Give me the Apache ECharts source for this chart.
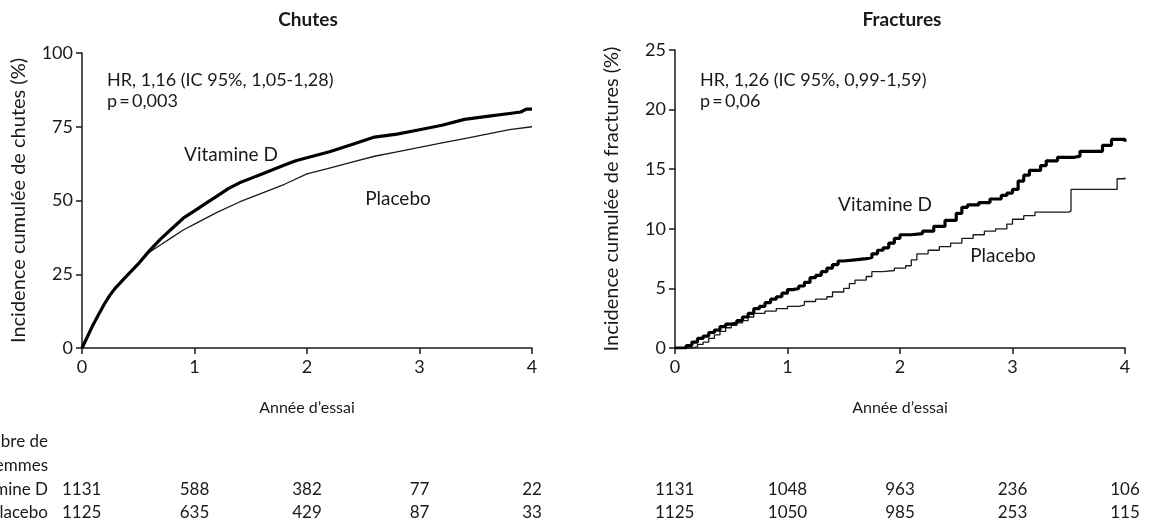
<!DOCTYPE html>
<html><head><meta charset="utf-8">
<script src="https://cdn.jsdelivr.net/npm/echarts@6/dist/echarts.min.js"></script>
<style>html,body{margin:0;padding:0;background:#fff}#c{width:1152px;height:521px}</style>
</head><body><div id="c"></div>
<script>
const yearTicks = [0, 1, 2, 3, 4];
const fallsVitD = [[0,0],[0.05,4],[0.1,8],[0.15,11.5],[0.2,15],[0.25,18],[0.3,20.5],[0.35,22.5],[0.4,24.5],[0.5,28.5],[0.6,33],[0.7,37],[0.8,40.5],[0.9,44],[1.0,46.5],[1.1,49],[1.2,51.5],[1.3,54],[1.4,56],[1.5,57.5],[1.6,59],[1.7,60.5],[1.8,62],[1.9,63.5],[2.0,64.5],[2.2,66.5],[2.4,69],[2.6,71.5],[2.8,72.5],[3.0,74],[3.2,75.5],[3.4,77.5],[3.6,78.5],[3.8,79.5],[3.9,80],[3.95,81],[4.0,81]];
const fallsPlacebo = [[0,0],[0.05,4],[0.1,8],[0.15,11.5],[0.2,15],[0.25,18],[0.3,20.5],[0.35,22.5],[0.4,24.5],[0.5,28.5],[0.6,32.5],[0.7,35],[0.8,37.5],[0.9,40],[1.0,42],[1.2,46],[1.4,49.5],[1.6,52.5],[1.8,55.5],[2.0,59],[2.2,61],[2.4,63],[2.6,65],[2.8,66.5],[3.0,68],[3.2,69.5],[3.4,71],[3.6,72.5],[3.8,74],[4.0,75]];
const fracVitD = [[0,0],[0.1,0.2],[0.15,0.5],[0.2,0.8],[0.25,1.0],[0.3,1.3],[0.35,1.5],[0.4,1.8],[0.45,2.0],[0.5,2.1],[0.55,2.3],[0.6,2.6],[0.65,2.9],[0.7,3.3],[0.75,3.5],[0.8,3.8],[0.85,4.1],[0.9,4.3],[0.95,4.6],[1.0,4.9],[1.05,5.0],[1.1,5.2],[1.15,5.5],[1.2,5.9],[1.25,6.1],[1.3,6.4],[1.35,6.7],[1.4,7.0],[1.45,7.3],[1.5,7.4],[1.6,7.5],[1.7,7.6],[1.75,7.9],[1.8,8.2],[1.85,8.4],[1.9,8.8],[1.95,9.2],[2.0,9.5],[2.1,9.6],[2.2,9.8],[2.3,10.2],[2.4,10.7],[2.5,11.3],[2.55,11.8],[2.6,12.0],[2.7,12.2],[2.8,12.5],[2.9,12.8],[2.95,13.0],[3.0,13.3],[3.05,14.0],[3.1,14.5],[3.15,14.9],[3.25,15.3],[3.3,15.7],[3.4,16.0],[3.55,16.1],[3.6,16.5],[3.8,17.0],[3.88,17.5],[4.0,17.3]];
const fracPlacebo = [[0,0],[0.15,0.1],[0.2,0.3],[0.25,0.5],[0.3,0.8],[0.35,1.1],[0.4,1.4],[0.45,1.7],[0.5,1.9],[0.55,2.1],[0.6,2.3],[0.65,2.6],[0.7,2.9],[0.8,3.1],[0.9,3.3],[1.0,3.5],[1.1,3.6],[1.15,3.9],[1.25,4.1],[1.35,4.3],[1.4,4.7],[1.5,5.0],[1.55,5.4],[1.6,5.7],[1.7,6.0],[1.75,6.4],[1.85,6.5],[1.95,6.7],[2.05,6.9],[2.1,7.4],[2.15,7.9],[2.25,8.2],[2.35,8.5],[2.45,8.8],[2.55,9.2],[2.65,9.5],[2.75,9.8],[2.85,10.0],[2.95,10.4],[3.0,10.8],[3.1,11.1],[3.2,11.4],[3.5,11.5],[3.52,13.3],[3.9,13.3],[3.93,14.2],[4.0,14.3]];
const atRiskFallsVitD = [1131, 588, 382, 77, 22];
const atRiskFallsPlacebo = [1125, 635, 429, 87, 33];
const atRiskFracVitD = [1131, 1048, 963, 236, 106];
const atRiskFracPlacebo = [1125, 1050, 985, 253, 115];
const rowLabels = ['Nombre de', 'femmes', 'Vitamine D', 'Placebo'];
const titles = ['Chutes', 'Fractures'];
const yNames = ['Incidence cumulée de chutes (%)', 'Incidence cumulée de fractures (%)'];
const xName = 'Année d\u2019essai';
const hrTexts = ['HR, 1,16 (IC 95%, 1,05-1,28)', 'HR, 1,26 (IC 95%, 0,99-1,59)'];
const pTexts = ['p\u2009=\u20090,003', 'p\u2009=\u20090,06'];

const FONT = 'Lato, "Open Sans", sans-serif';
const INK = '#1a1a1a';
const chart = echarts.init(document.getElementById('c'), null, {renderer: 'canvas'});

function xAx(i) {
  return {
    type: 'value', gridIndex: i, min: 0, max: 4, interval: 1,
    name: xName, nameLocation: 'middle', nameGap: 52,
    nameTextStyle: {fontFamily: FONT, fontSize: 16, color: INK},
    axisLine: {show: true, lineStyle: {color: INK, width: 1.5}},
    axisTick: {show: true, inside: false, length: 6, lineStyle: {color: INK, width: 1.5}},
    axisLabel: {fontFamily: FONT, fontSize: 18, color: INK, margin: 10},
    splitLine: {show: false}
  };
}
function yAx(i, max, interval) {
  return {
    type: 'value', gridIndex: i, min: 0, max: max, interval: interval,
    name: yNames[i], nameLocation: 'middle', nameGap: 53, nameRotate: 90,
    nameTextStyle: {fontFamily: FONT, fontSize: 20, color: INK},
    axisLine: {show: true, lineStyle: {color: INK, width: 1.5}},
    axisTick: {show: true, inside: false, length: 6, lineStyle: {color: INK, width: 1.5}},
    axisLabel: {fontFamily: FONT, fontSize: 18, color: INK, margin: 9},
    splitLine: {show: false}
  };
}

const option = {
  backgroundColor: '#fff',
  animation: false,
  grid: [
    {left: 82, top: 53, width: 450, height: 295},
    {left: 675, top: 50, width: 450, height: 298}
  ],
  xAxis: [xAx(0), xAx(1)],
  yAxis: [yAx(0, 100, 25), yAx(1, 25, 5)],
  series: [
    {name: 'Placebo', type: 'line', xAxisIndex: 0, yAxisIndex: 0, data: fallsPlacebo, showSymbol: false, lineStyle: {color: INK, width: 1.3}},
    {name: 'Vitamine D', type: 'line', xAxisIndex: 0, yAxisIndex: 0, data: fallsVitD, showSymbol: false, lineStyle: {color: '#000', width: 3.2}},
    {name: 'Placebo', type: 'line', step: 'end', xAxisIndex: 1, yAxisIndex: 1, data: fracPlacebo, showSymbol: false, lineStyle: {color: INK, width: 1.3}},
    {name: 'Vitamine D', type: 'line', step: 'end', xAxisIndex: 1, yAxisIndex: 1, data: fracVitD, showSymbol: false, lineStyle: {color: '#000', width: 3.2}}
  ]
};
chart.setOption(option);

function txt(x, y, text, opts) {
  return Object.assign({
    type: 'text', x: x, y: y,
    style: Object.assign({text: text, fontFamily: FONT, fontSize: 18, fill: INK, align: 'left', verticalAlign: 'middle'}, opts && opts.style)
  }, opts && opts.el);
}
const g = [];
g.push(txt(308, 20, titles[0], {style: {fontSize: 19, fontWeight: 'bold', align: 'center'}}));
g.push(txt(902, 20, titles[1], {style: {fontSize: 19, fontWeight: 'bold', align: 'center'}}));
g.push(txt(107, 80, hrTexts[0]));
g.push(txt(107, 101, pTexts[0]));
g.push(txt(700, 80, hrTexts[1]));
g.push(txt(700, 101, pTexts[1]));
g.push(txt(231, 155, 'Vitamine D', {style: {align: 'center', fontSize: 19}}));
g.push(txt(398, 199, 'Placebo', {style: {align: 'center', fontSize: 19}}));
g.push(txt(885, 205, 'Vitamine D', {style: {align: 'center', fontSize: 19}}));
g.push(txt(1003, 256, 'Placebo', {style: {align: 'center', fontSize: 19}}));
const rowY = [442, 466, 490, 513];
rowLabels.forEach((t, i) => g.push(txt(48, rowY[i], t, {style: {align: 'right', fontSize: 17}})));
function rowNums(vals, gridIdx, y) {
  vals.forEach((v, k) => {
    const px = chart.convertToPixel({xAxisIndex: gridIdx}, yearTicks[k]);
    const x = k === 0 ? px - 20 : px;
    g.push(txt(x, y, String(v), {style: {align: k === 0 ? 'left' : 'center', fontSize: 17}}));
  });
}
rowNums(atRiskFallsVitD, 0, rowY[2]);
rowNums(atRiskFallsPlacebo, 0, rowY[3]);
rowNums(atRiskFracVitD, 1, rowY[2]);
rowNums(atRiskFracPlacebo, 1, rowY[3]);
chart.setOption({graphic: {elements: g}});
</script>
</body></html>
